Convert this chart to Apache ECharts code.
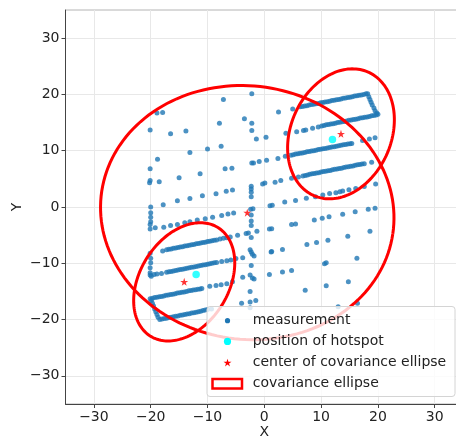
<!DOCTYPE html>
<html>
<head>
<meta charset="utf-8">
<script src="https://cdn.jsdelivr.net/npm/echarts@6/dist/echarts.min.js"></script>
<style>
html,body{margin:0;padding:0;background:#fff}
#chart{width:456px;height:437px}
</style>
</head>
<body>
<div id="chart"></div>
<script>
// measured positions, grouped by sweep row of the survey path
const measurements = [
  // western edge column
  [-20.1,13.7],[-20.1,6.8],[-20.1,4.7],[-20.2,4.3],[-20.0,0.0],[-20.0,-1.0],[-20.0,-1.8],[-20.0,-2.6],
  [-20.1,-3.1],[-20.1,-3.9],[-20.1,-8.2],[-20.0,-9.1],[-20.0,-9.9],[-20.1,-10.8],[-20.1,-11.7],[-20.1,-12.1],[-19.9,-12.3],
  // top sparse row
  [-18.9,16.7],[-17.9,16.8],[-7.2,19.1],[-2.2,20.1],
  // row 1
  [-16.5,13.0],[-13.8,13.5],[-7.9,14.9],[-3.5,15.7],[2.5,16.9],[5.0,17.4],
  [6.3,17.8],[6.7,17.85],[7.1,17.95],[7.5,18.0],[7.9,18.1],[8.3,18.2],[8.7,18.25],[9.1,18.35],[9.5,18.4],
  [9.9,18.5],[10.3,18.55],[10.7,18.65],[11.1,18.7],[11.5,18.8],[11.9,18.9],[12.3,18.95],[12.7,19.05],
  [13.1,19.1],[13.5,19.2],[13.9,19.3],[14.3,19.35],[14.7,19.45],[15.1,19.5],[15.5,19.6],[15.9,19.7],
  [16.3,19.75],[16.7,19.85],[17.1,19.9],[17.5,20.0],[17.9,20.1],[18.2,20.1],
  [18.4,19.6],[18.6,19.1],[18.8,18.6],[19.0,18.1],[19.3,17.6],[19.5,17.1],[19.8,16.7],[20.0,16.5],
  // row 2
  [19.7,16.35],[19.3,16.25],[18.9,16.2],[18.5,16.1],[18.1,16.0],[17.7,15.95],[17.3,15.85],[16.9,15.8],
  [16.5,15.7],[16.1,15.6],[15.7,15.55],[15.3,15.45],[14.9,15.4],[14.5,15.3],[14.1,15.2],[13.7,15.15],
  [13.3,15.05],[12.9,15.0],[12.5,14.9],[12.1,14.8],[11.7,14.75],[11.3,14.65],[10.9,14.6],[10.5,14.5],[10.1,14.4],
  [9.5,14.2],[8.5,14.0],[7.3,13.7],[6.9,13.6],[5.7,13.35],[3.8,13.1],[0.3,12.4],[-1.4,12.1],
  [-18.8,8.5],[-13.1,9.7],[-10.0,10.3],[-7.6,10.8],
  // row 3
  [-18.5,4.5],[-15.0,5.2],[-11.3,5.9],[-6.9,6.8],[-5.7,6.9],[-2.2,7.8],[-1.9,7.8],[-0.9,8.1],[0.4,8.3],
  [2.4,8.6],[3.7,9.0],
  [4.7,9.2],[5.1,9.3],[5.5,9.4],[5.9,9.45],[6.3,9.55],[6.7,9.6],[7.1,9.7],[7.5,9.8],[7.9,9.85],[8.3,9.95],
  [8.7,10.0],[9.1,10.1],[9.5,10.2],[9.9,10.25],[10.3,10.35],[10.7,10.4],[11.1,10.5],[11.5,10.55],[11.9,10.65],
  [12.3,10.7],[12.7,10.8],[13.1,10.9],[13.5,10.95],[13.9,11.05],[14.3,11.1],[14.7,11.2],[15.1,11.25],[15.4,11.3],
  [17.3,11.8],[18.5,12.1],[19.5,12.3],
  // row 4
  [-17.8,0.4],[-15.3,1.1],[-13.1,1.5],[-10.9,2.0],[-8.5,2.35],[-6.7,2.8],[-5.6,3.0],[-0.3,4.1],[0.1,4.25],
  [1.9,4.4],[2.9,4.7],[4.8,5.1],[6.0,5.35],
  [6.8,5.5],[7.2,5.6],[7.6,5.7],[8.0,5.8],[8.4,5.9],[8.8,5.95],[9.2,6.05],[9.6,6.1],[10.0,6.2],[10.4,6.3],
  [10.8,6.35],[11.2,6.45],[11.6,6.5],[12.0,6.6],[12.4,6.7],[12.8,6.75],[13.2,6.85],[13.6,6.9],[14.0,7.0],
  [14.4,7.1],[14.8,7.15],[15.2,7.25],[15.6,7.3],[16.0,7.4],[16.4,7.5],[16.8,7.55],[17.2,7.65],[17.6,7.7],[18.9,7.95],
  // row 5
  [-19.2,-3.7],[-17.7,-3.6],[-16.5,-3.3],[-15.3,-3.1],[-14.0,-2.8],[-13.1,-2.6],[-11.8,-2.3],[-10.4,-2.1],
  [-9.1,-1.8],[-7.5,-1.5],[-6.4,-1.25],[-5.4,-1.05],[1.0,0.2],[1.4,0.3],[3.6,0.9],[5.5,1.15],[7.4,1.55],
  [9.0,1.8],[10.3,2.15],[11.5,2.4],[12.6,2.55],[13.3,2.7],[13.8,2.85],[14.9,3.05],[16.1,3.3],[17.6,3.65],[19.6,4.1],
  // row 6
  [-17.9,-7.8],
  [-17.2,-7.6],[-16.8,-7.5],[-16.4,-7.45],[-16.0,-7.35],[-15.6,-7.3],[-15.2,-7.2],[-14.8,-7.1],[-14.4,-7.05],
  [-14.0,-6.95],[-13.6,-6.9],[-13.2,-6.8],[-12.8,-6.7],[-12.4,-6.65],[-12.0,-6.55],[-11.6,-6.5],[-11.2,-6.4],
  [-10.8,-6.3],[-10.4,-6.25],[-10.0,-6.15],[-9.6,-6.1],[-9.2,-6.0],[-8.8,-5.9],[-8.4,-5.85],[-7.8,-5.7],
  [-7.2,-5.55],[-6.6,-5.45],[-6.0,-5.35],
  [-4.7,-5.0],[-3.2,-4.7],[-1.3,-4.3],[0.9,-3.9],[1.3,-3.85],[4.8,-3.1],[5.5,-3.0],[8.8,-2.3],[10.2,-2.0],
  [11.4,-1.75],[13.8,-1.3],[16.0,-0.85],[18.3,-0.4],[19.5,-0.2],
  // row 7
  [-19.4,-12.0],[-18.9,-11.9],[-18.1,-11.8],
  [-17.2,-11.6],[-16.8,-11.5],[-16.4,-11.45],[-16.0,-11.35],[-15.6,-11.3],[-15.2,-11.2],[-14.8,-11.1],
  [-14.4,-11.05],[-14.0,-10.95],[-13.6,-10.9],[-13.2,-10.8],[-12.8,-10.7],[-12.4,-10.65],[-12.0,-10.55],
  [-11.6,-10.5],[-11.2,-10.4],[-10.8,-10.3],[-10.4,-10.25],[-10.0,-10.15],[-9.6,-10.1],[-9.2,-10.0],
  [-8.8,-9.9],[-8.4,-9.85],[-7.5,-9.7],[-6.6,-9.55],[-5.9,-9.4],[-5.0,-9.15],
  [-3.8,-9.0],[1.2,-8.0],[1.3,-7.9],[3.2,-7.55],[7.5,-6.65],[9.2,-6.3],[11.2,-5.9],[14.7,-5.2],[18.6,-4.3],
  // row 8
  [-20.1,-16.3],[-19.7,-16.2],[-19.3,-16.1],[-18.9,-16.05],[-18.5,-15.95],[-18.1,-15.9],[-17.7,-15.8],
  [-17.3,-15.7],[-16.9,-15.65],[-16.5,-15.55],[-16.1,-15.5],[-15.7,-15.4],[-15.3,-15.3],[-14.9,-15.25],
  [-14.5,-15.15],[-14.1,-15.1],[-13.7,-15.0],[-13.3,-14.9],[-12.9,-14.85],[-12.5,-14.75],[-12.1,-14.7],
  [-11.7,-14.6],[-11.3,-14.55],[-11.0,-14.5],
  [-9.6,-14.1],[-8.5,-13.95],[-7.6,-13.8],[-6.6,-13.65],[-5.6,-13.3],[-3.8,-12.5],[0.9,-12.0],[3.2,-11.55],
  [4.8,-11.3],[10.6,-10.1],[10.9,-9.9],[16.3,-9.1],
  // turn and row 9
  [-19.9,-16.6],[-19.7,-17.1],[-19.5,-17.6],[-19.3,-18.1],[-19.1,-18.6],[-18.9,-19.1],[-18.7,-19.6],[-18.4,-20.0],
  [-18.0,-19.9],[-17.6,-19.8],[-17.2,-19.75],[-16.8,-19.65],[-16.4,-19.6],[-16.0,-19.5],[-15.6,-19.4],
  [-15.2,-19.35],[-14.8,-19.25],[-14.4,-19.2],[-14.0,-19.1],[-13.6,-19.0],[-13.2,-18.95],[-12.8,-18.85],
  [-12.4,-18.8],[-12.0,-18.7],[-11.6,-18.6],[-11.2,-18.5],[-10.8,-18.4],[-10.4,-18.3],[-10.0,-18.2],
  [-9.3,-18.1],[-4.0,-17.1],[-1.5,-16.6],[7.2,-14.8],[10.9,-14.0],[14.8,-13.3],
  // bottom sparse row
  [13.0,-17.7],[16.4,-17.1],
  // central column
  [-2.2,14.9],[-2.2,13.6],[-2.3,3.7],[-2.3,3.2],[-2.3,2.6],[-2.3,1.8],[-2.4,-0.4],[-2.0,-0.3],[-2.3,-1.4],
  [-2.3,-2.5],[-2.3,-3.3],[-2.8,-4.6],[-2.3,-5.4],[-2.5,-7.6],[-2.3,-8.0],[-2.1,-8.4],[-1.8,-8.7],
  [-2.3,-10.4],[-2.5,-12.1],[-2.1,-12.6],[-1.8,-12.8],[-2.5,-15.0],[-2.5,-16.9],[-2.5,-17.9]
];

const hotspots = [[12, 12], [-12, -12]];

// centre of each covariance ellipse
const ellipseCenters = [[-3.0, -1.0], [13.5, 13.0], [-14.1, -13.3]];
// semi-major axis, semi-minor axis, rotation in degrees (counter-clockwise from +x)
const ellipseShapes = [[25.9, 22.5, -8.4], [11.97, 8.85, 66.9], [11.33, 7.82, 58.8]];

const axisTicks = [-30, -20, -10, 0, 10, 20, 30];
const legendLabels = ['measurement', 'position of hotspot', 'center of covariance ellipse', 'covariance ellipse'];

const FONT = 'DejaVu Sans';
const TEXT = '#222';
const STAR = 'path://M0,-10L2.245,-3.09L9.511,-3.09L3.633,1.18L5.878,8.09L0,3.82L-5.878,8.09L-3.633,1.18L-9.511,-3.09L-2.245,-3.09Z';

const ellipseData = ellipseCenters.map((c, i) => [c[0], c[1]].concat(ellipseShapes[i]));

function renderEllipse(params, api) {
  const cx = api.value(0), cy = api.value(1);
  const a = api.value(2), b = api.value(3), t = api.value(4) * Math.PI / 180;
  const pts = [];
  const n = 160;
  for (let k = 0; k <= n; k++) {
    const u = k / n * 2 * Math.PI;
    const ex = a * Math.cos(u), ey = b * Math.sin(u);
    pts.push(api.coord([cx + ex * Math.cos(t) - ey * Math.sin(t), cy + ex * Math.sin(t) + ey * Math.cos(t)]));
  }
  return { type: 'polyline', shape: { points: pts }, style: { fill: null, stroke: '#ff0000', lineWidth: 3 } };
}

const fmt = v => (v % 10 === 0 ? String(v).replace('-', '\u2212') : '');

function axisCommon(name) {
  return {
    type: 'value', min: -35, max: 35, splitNumber: 7,
    axisLine: { show: true, onZero: false, lineStyle: { color: '#444', width: 1 } },
    axisTick: { show: true, inside: false, length: 4, customValues: axisTicks, lineStyle: { color: '#444' } },
    axisLabel: { customValues: axisTicks, formatter: fmt, fontSize: 14, color: TEXT, fontFamily: FONT, margin: 6 },
    splitLine: { show: true, lineStyle: { color: '#e8e8e8', width: 1 } },
    name: name, nameLocation: 'middle', nameMoveOverlap: false,
    nameTextStyle: { fontSize: 14, color: TEXT, fontFamily: FONT }
  };
}

// star polygon for the legend key
function starPoints(cx, cy, r) {
  const pts = [];
  for (let k = 0; k < 10; k++) {
    const rr = k % 2 === 0 ? r : r * 0.382;
    const ang = -Math.PI / 2 + k * Math.PI / 5;
    pts.push([cx + rr * Math.cos(ang), cy + rr * Math.sin(ang)]);
  }
  return pts;
}

const legX = 207, legY = 306.5, legW = 248, legH = 90;
const rowY = [320.7, 341.4, 362.5, 383.6];
const keyX = 227.5, textX = 252.7;

const legendGraphics = [
  { type: 'rect', shape: { x: legX, y: legY, width: legW, height: legH, r: 3 },
    style: { fill: 'rgba(255,255,255,0.8)', stroke: '#d4d4d4', lineWidth: 1 }, z: 100 },
  { type: 'circle', shape: { cx: keyX, cy: rowY[0], r: 2.6 }, style: { fill: '#1f77b4' }, z: 101 },
  { type: 'circle', shape: { cx: keyX, cy: rowY[1], r: 3.6 }, style: { fill: '#00ffff' }, z: 101 },
  { type: 'polygon', shape: { points: starPoints(keyX, rowY[2] + 0.5, 4.2) }, style: { fill: '#ff0000' }, z: 101 },
  { type: 'rect', shape: { x: 212.5, y: rowY[3] - 4.5, width: 29.5, height: 9.5 },
    style: { fill: null, stroke: '#ff0000', lineWidth: 2.5 }, z: 101 }
].concat(legendLabels.map((t, i) => ({
  type: 'text', x: textX, y: rowY[i], z: 101,
  style: { text: t, fill: TEXT, font: '14px "' + FONT + '"', verticalAlign: 'middle', align: 'left' }
})));

const chart = echarts.init(document.getElementById('chart'), null, { renderer: 'canvas' });
const xAx = axisCommon('X'); xAx.nameGap = 21;
const yAx = axisCommon('Y'); yAx.nameGap = 41; yAx.nameRotate = 90;

chart.setOption({
  animation: false,
  backgroundColor: '#ffffff',
  grid: { left: 65.5, top: 10, width: 397.6, height: 394, outerBoundsMode: 'none', containLabel: false,
    show: true, borderColor: '#b4b4b4', borderWidth: 1, backgroundColor: 'transparent' },
  xAxis: xAx,
  yAxis: yAx,
  series: [
    { name: legendLabels[0], type: 'scatter', data: measurements, symbolSize: 5,
      itemStyle: { color: '#1f77b4' }, z: 2, silent: true },
    { name: legendLabels[3], type: 'custom', data: ellipseData, renderItem: renderEllipse,
      encode: { x: 0, y: 1 }, z: 3, silent: true, clip: false },
    { name: legendLabels[1], type: 'scatter', data: hotspots, symbolSize: 7.5,
      itemStyle: { color: '#00ffff' }, z: 4, silent: true },
    { name: legendLabels[2], type: 'scatter', data: ellipseCenters, symbol: STAR, symbolSize: 8,
      itemStyle: { color: '#ff0000' }, z: 5, silent: true }
  ],
  graphic: legendGraphics
});
</script>
</body>
</html>
